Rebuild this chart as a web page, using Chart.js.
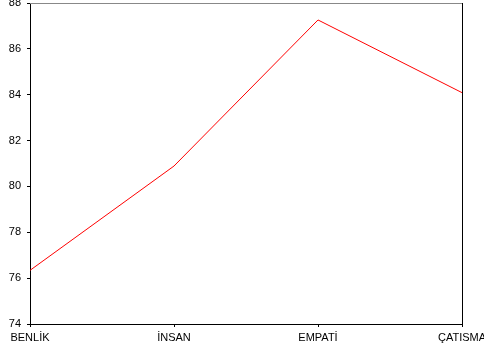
<!DOCTYPE html>
<html>
<head>
<meta charset="utf-8">
<script src="https://cdn.jsdelivr.net/npm/chart.js@4/dist/chart.umd.min.js"></script>
<style>
  html, body { margin: 0; padding: 0; background: #fff; }
  #wrap { width: 484px; height: 349px; }
</style>
</head>
<body>
<div id="wrap"><canvas id="chart" width="484" height="349"></canvas></div>
<script>
const categories = ["BENLİK", "İNSAN", "EMPATİ", "ÇATISMA"];
const scores = [76.34, 80.89, 87.26, 84.09];
const yTicks = [74, 76, 78, 80, 82, 84, 86, 88];

// frame: gray top, black right
const framePlugin = {
  id: "frame",
  afterDraw(chart) {
    const { ctx, chartArea: a } = chart;
    ctx.save();
    ctx.lineWidth = 1;
    ctx.strokeStyle = "#888";
    ctx.beginPath();
    ctx.moveTo(a.left, a.top + 0.5);
    ctx.lineTo(a.right, a.top + 0.5);
    ctx.stroke();
    ctx.strokeStyle = "#000";
    ctx.beginPath();
    ctx.moveTo(a.right + 0.5, a.top);
    ctx.lineTo(a.right + 0.5, a.bottom);
    ctx.stroke();
    ctx.restore();
  },
};

const ctx = document.getElementById("chart").getContext("2d");
new Chart(ctx, {
  type: "line",
  data: {
    labels: categories,
    datasets: [{
      data: scores,
      borderColor: "#ff0000",
      borderWidth: 1,
      pointRadius: 0,
      tension: 0,
      fill: false,
    }],
  },
  options: {
    responsive: false,
    animation: false,
    layout: { padding: { top: 3, right: 22, left: 0, bottom: 0 } },
    plugins: { legend: { display: false }, tooltip: { enabled: false } },
    scales: {
      x: {
        offset: false,
        grid: { drawOnChartArea: false, color: "#000", tickLength: 3 },
        border: { display: true, color: "#000", width: 1 },
        ticks: {
          autoSkip: false,
          maxRotation: 0,
          padding: 4,
          color: "#000",
          font: { family: "Liberation Sans, Arial", size: 11 },
        },
        afterFit(scale) {
          scale.height = 25;
          scale.paddingLeft = 0;
          scale.paddingRight = 0;
        },
      },
      y: {
        min: 74,
        max: 88,
        afterBuildTicks(scale) {
          scale.ticks = yTicks.map((v) => ({ value: v }));
        },
        grid: { drawOnChartArea: false, color: "#000", tickLength: 3 },
        border: { display: true, color: "#000", width: 1 },
        ticks: {
          padding: 6,
          color: "#000",
          font: { family: "Liberation Sans, Arial", size: 11 },
        },
        afterFit(scale) {
          scale.width = 30;
          scale.paddingTop = 0;
          scale.paddingBottom = 0;
        },
      },
    },
  },
  plugins: [framePlugin],
});
</script>
</body>
</html>
